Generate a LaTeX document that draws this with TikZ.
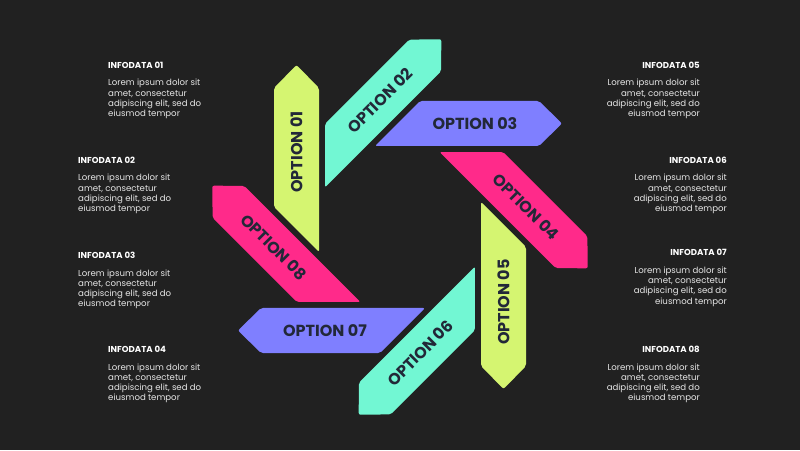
\documentclass[tikz,border=0pt]{standalone}
\usepackage{fontspec}
\setmainfont{Poppins}
\definecolor{bg}{HTML}{212121}
\definecolor{lime}{HTML}{D5F571}
\definecolor{mint}{HTML}{72F7D3}
\definecolor{peri}{HTML}{7F7FFF}
\definecolor{pink}{HTML}{FF2A8A}
\definecolor{ink}{HTML}{222838}
\definecolor{bodytxt}{HTML}{E6E6E6}
\begin{document}
\begin{tikzpicture}[x=1pt,y=1pt,
  opt/.style={text=ink, font=\fontsize{16}{18}\selectfont\bfseries, inner sep=0pt},
  ttl/.style={text=white, font=\fontsize{8.6}{10}\selectfont\bfseries, inner sep=0pt},
  bdy/.style={text=bodytxt, font=\fontsize{8.6}{10.2}\selectfont, inner sep=0pt},
  band/.style={rounded corners=2pt}]
\fill[bg] (0,0) rectangle (800,450);
\useasboundingbox (0,0) rectangle (800,450);
\foreach \k/\c/\ta in {1/lime/90, 2/mint/45, 3/peri/0, 4/pink/-45, 5/lime/90, 6/mint/45, 7/peri/0, 8/pink/-45} {
  \begin{scope}[shift={(400,223)}, rotate={-(\k-1)*45}]
    \fill[\c, band] (-126,20) -- (-81,-25) -- (-81,139) -- (-103.5,162) -- (-126,139) -- cycle;
    \node[opt, rotate=\ta] (o\k) at (-103.5,75) {OPTION 0\k};
  \end{scope}
}
\foreach \k/\x/\b in {1/108/68.3, 2/78/163.3, 3/78/258.5, 4/108/352.5} {
  \node[ttl, anchor=base west] (t\k) at (\x,450-\b) {INFODATA 0\k};
  \node[bdy, anchor=base west, align=left] (b\k) at (\x,450-\b-17.7-30.6) {Lorem ipsum dolor sit\\amet, consectetur\\adipiscing elit, sed do\\eiusmod tempor};
}
\foreach \k/\x/\b in {5/700/68.3, 6/727/163.3, 7/727/255.7, 8/700/352.5} {
  \node[ttl, anchor=base east] (t\k) at (\x,450-\b) {INFODATA 0\k};
  \node[bdy, anchor=base east, align=right] (b\k) at (\x,450-\b-17.7-30.6) {Lorem ipsum dolor sit\\amet, consectetur\\adipiscing elit, sed do\\eiusmod tempor};
}
\end{tikzpicture}
\end{document}
